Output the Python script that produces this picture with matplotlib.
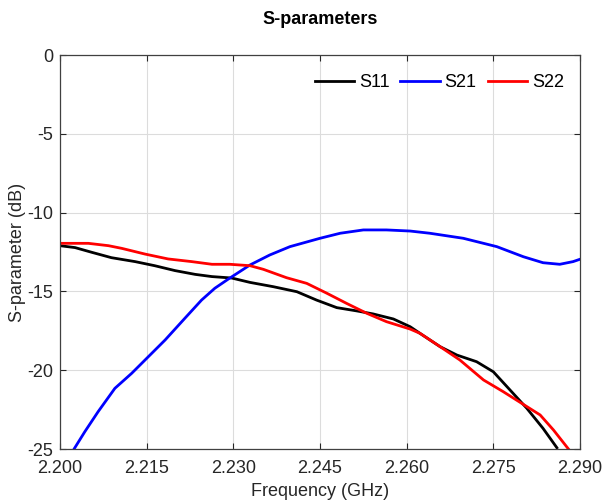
import numpy as np
from matplotlib import pyplot as plt

# S-parameter curves (frequency in GHz, level in dB)
f_s11 = [2.2000, 2.2026, 2.2055, 2.2089, 2.2130, 2.2164, 2.2199, 2.2234,
         2.2263, 2.2297, 2.2329, 2.2369, 2.2410, 2.2444, 2.2479, 2.2514,
         2.2542, 2.2577, 2.2606, 2.2623, 2.2658, 2.2687, 2.2721, 2.2750,
         2.2779, 2.2808, 2.2836, 2.2860]
s11 = [-12.10, -12.22, -12.52, -12.86, -13.11, -13.37, -13.68, -13.92,
       -14.06, -14.15, -14.43, -14.70, -15.02, -15.55, -16.03, -16.24,
       -16.43, -16.75, -17.24, -17.66, -18.51, -19.04, -19.46, -20.10,
       -21.26, -22.42, -23.69, -24.92]

f_s21 = [2.2025, 2.2043, 2.2066, 2.2095, 2.2124, 2.2150, 2.2182, 2.2216,
         2.2245, 2.2268, 2.2292, 2.2329, 2.2363, 2.2398, 2.2450, 2.2485,
         2.2525, 2.2565, 2.2606, 2.2640, 2.2698, 2.2756, 2.2802, 2.2836,
         2.2865, 2.2888, 2.2900]
s21 = [-24.96, -23.90, -22.63, -21.15, -20.20, -19.25, -18.08, -16.71,
       -15.55, -14.80, -14.20, -13.32, -12.69, -12.16, -11.63, -11.31,
       -11.10, -11.10, -11.17, -11.31, -11.63, -12.16, -12.80, -13.18,
       -13.28, -13.11, -12.96]

f_s22 = [2.2000, 2.2049, 2.2084, 2.2107, 2.2147, 2.2187, 2.2228, 2.2263,
         2.2294, 2.2329, 2.2352, 2.2392, 2.2427, 2.2462, 2.2496, 2.2531,
         2.2565, 2.2606, 2.2623, 2.2658, 2.2692, 2.2733, 2.2767, 2.2802,
         2.2831, 2.2854, 2.2880]
s22 = [-11.95, -11.95, -12.10, -12.27, -12.63, -12.94, -13.11, -13.28,
       -13.28, -13.37, -13.60, -14.13, -14.49, -15.12, -15.76, -16.39,
       -16.92, -17.39, -17.66, -18.51, -19.35, -20.62, -21.36, -22.17,
       -22.84, -23.79, -25.00]

xticks = [2.200, 2.215, 2.230, 2.245, 2.260, 2.275, 2.290]
yticks = [0, -5, -10, -15, -20, -25]

plt.rcParams["font.family"] = ["Liberation Sans", "DejaVu Sans"]
plt.rcParams["axes.unicode_minus"] = False
txt = "#262626"

fig = plt.figure(figsize=(6.08, 5.04), dpi=100)
ax = fig.add_axes([60 / 608, 55 / 504, 520 / 608, 394 / 504])

ax.plot(f_s11, s11, color="black", lw=2, label="S11")
ax.plot(f_s21, s21, color="#0000ff", lw=2, label="S21")
ax.plot(f_s22, s22, color="#ff0000", lw=2, label="S22")

ax.set_xlim(2.200, 2.290)
ax.set_ylim(-25, 0)
ax.set_xticks(xticks)
ax.set_xticklabels(["%.3f" % v for v in xticks])
ax.set_yticks(yticks)
ax.tick_params(direction="in", top=True, right=True, length=4,
               labelsize=13, colors=txt, width=0.8)
ax.tick_params(axis="x", pad=8)
ax.tick_params(axis="y", pad=5)
ax.grid(color="#dcdcdc", lw=0.8)
ax.set_axisbelow(True)
for s in ax.spines.values():
    s.set_color("#404040")
    s.set_linewidth(0.9)

ax.set_title("S-parameters", fontsize=13, fontweight="bold", color="black", pad=22)
ax.set_xlabel("Frequency (GHz)", fontsize=13, color=txt, labelpad=4)
ax.set_ylabel("S-parameter (dB)", fontsize=13, color=txt, labelpad=1)

leg = ax.legend(loc="upper right", bbox_to_anchor=(1.0, 0.992), ncol=3,
                frameon=False, fontsize=13, handlelength=2.17,
                handletextpad=0.28, columnspacing=0.6, borderaxespad=0.5)

fig.savefig("out.png", dpi=100)
